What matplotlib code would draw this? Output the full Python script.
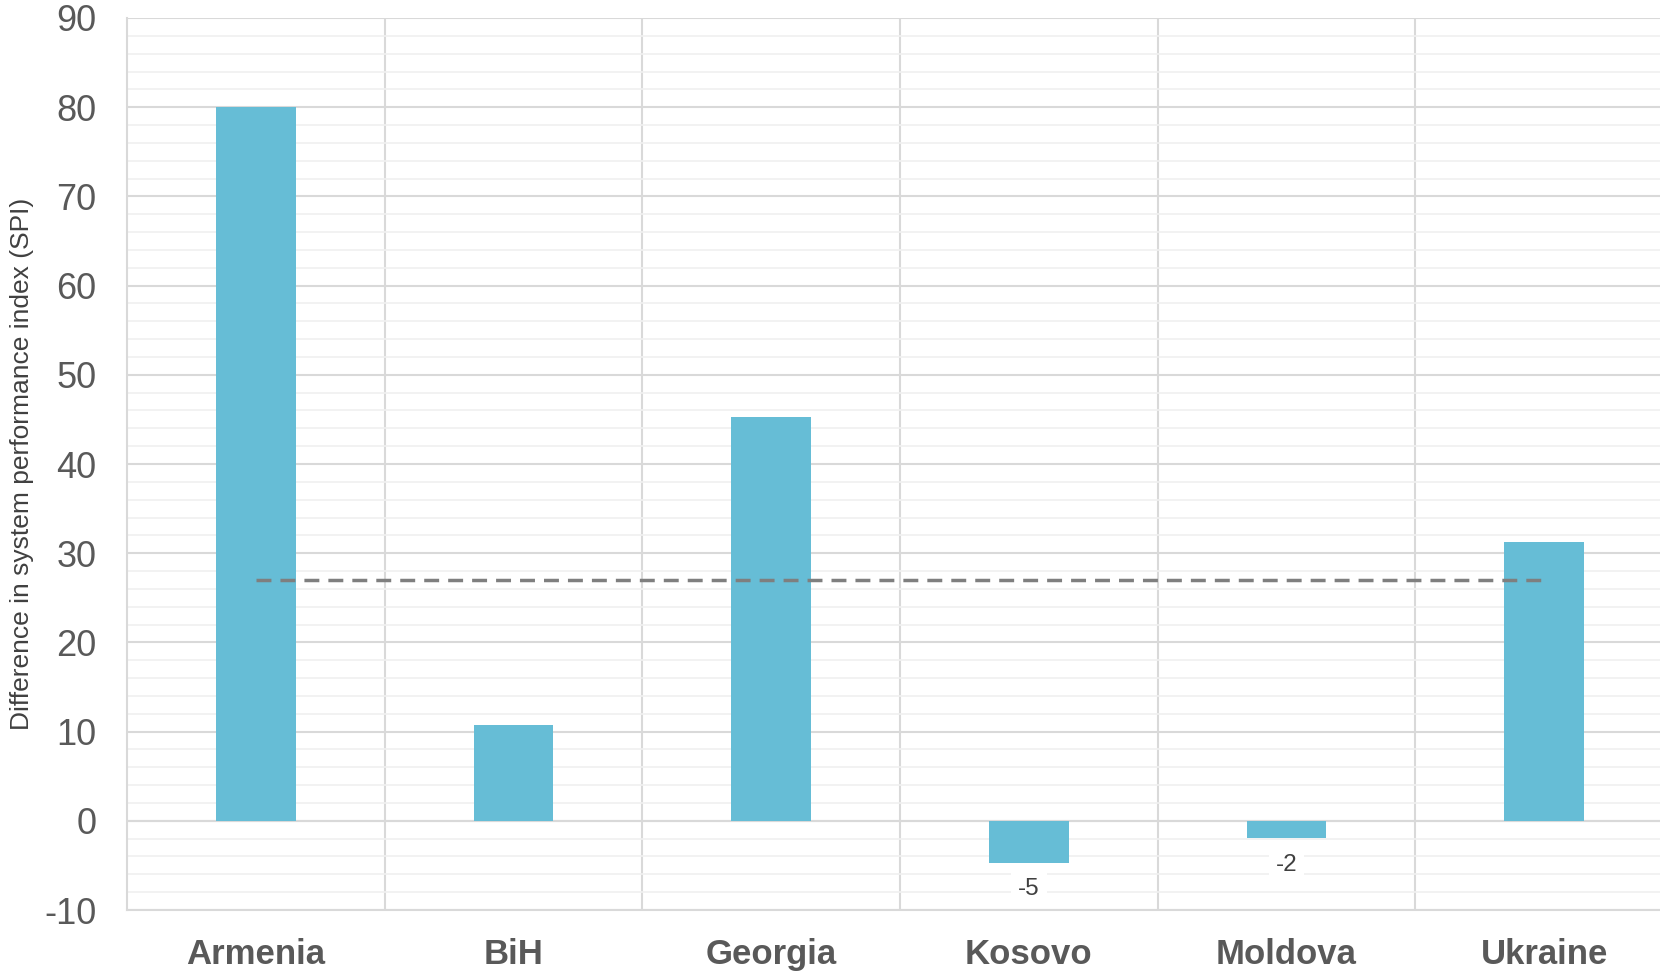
import matplotlib.pyplot as plt
import numpy as np

plt.rcParams['font.family'] = ['Liberation Sans', 'DejaVu Sans']
plt.rcParams['axes.unicode_minus'] = False

countries = ['Armenia', 'BiH', 'Georgia', 'Kosovo', 'Moldova', 'Ukraine']
spi_diff = [80, 10.7, 45.3, -4.7, -1.9, 31.2]
avg_diff = 27
neg_labels = {3: '-5', 4: '-2'}

fig = plt.figure(figsize=(16.6, 9.71), dpi=100)
# axes goes a bit past the right edge like in the original
ax = fig.add_axes([127 / 1660, 1 - 910 / 971, 1546 / 1660, 892 / 971])

x = np.arange(len(countries))
ax.bar(x, spi_diff, width=0.31, color='#66bdd6', zorder=3)
ax.plot([x[0], x[-1]], [avg_diff, avg_diff], color='#7f7f7f', lw=2.5,
        linestyle=(0, (4.3, 2.6)), zorder=4)

for i, t in neg_labels.items():
    ax.text(x[i], spi_diff[i] - 3.0, t, ha='center', va='center', fontsize=17.5,
            color='#404040', zorder=5,
            bbox=dict(facecolor='white', edgecolor='none', pad=5))

ax.set_xlim(-0.5, 5.5)
ax.set_ylim(-10, 90)
ax.set_yticks(np.arange(-10, 91, 10))
ax.set_yticks(np.arange(-10, 91, 2), minor=True)
ax.set_xticks(x)
ax.set_xticklabels(countries, fontsize=25, fontweight='bold', color='#595959')
ax.set_xticks(np.arange(0.5, 5.5, 1), minor=True)
ax.tick_params(axis='y', which='major', labelsize=26, labelcolor='#595959', length=0, pad=22)
ax.tick_params(axis='both', which='minor', length=0)
ax.tick_params(axis='x', which='major', length=0, pad=20)

ax.grid(axis='y', which='major', color='#d9d9d9', lw=1.5, zorder=0)
ax.grid(axis='y', which='minor', color='#f0f0f0', lw=1.2, zorder=0)
ax.grid(axis='x', which='minor', color='#d9d9d9', lw=1.5, zorder=0)
ax.axhline(0, color='#d9d9d9', lw=1.5, zorder=1)

for s in ['top', 'right']:
    ax.spines[s].set_visible(False)
for s in ['left', 'bottom']:
    ax.spines[s].set_color('#d9d9d9')
    ax.spines[s].set_linewidth(1.5)

ax.set_ylabel('Difference in system performance index (SPI)', fontsize=19,
              color='#404040')
ax.yaxis.set_label_coords(-0.06, 0.5)

fig.savefig('out.png', dpi=100)
